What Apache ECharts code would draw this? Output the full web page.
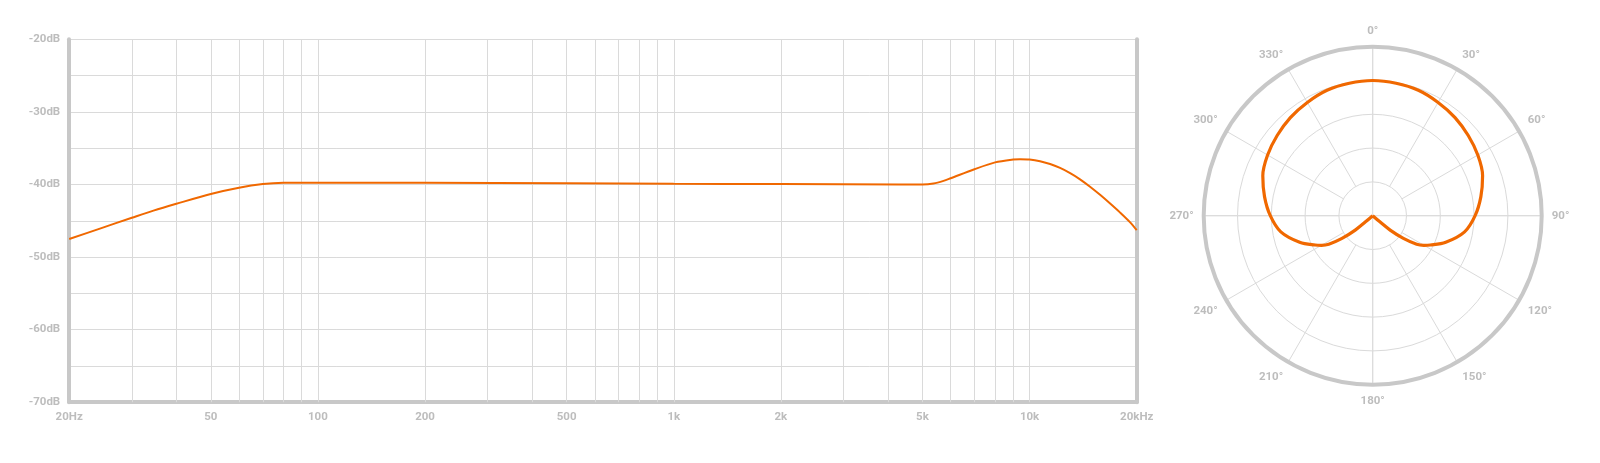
<!DOCTYPE html>
<html>
<head>
<meta charset="utf-8">
<style>
  html, body { margin: 0; padding: 0; background: #fff; }
  #chart { width: 1600px; height: 463px; }
</style>
<script src="https://cdn.jsdelivr.net/npm/echarts@6/dist/echarts.min.js"></script>
</head>
<body>
<div id="chart"></div>
<script>
// frequency response
const freqHz = [20, 24.4, 30, 34.5, 40, 50, 60, 70, 80, 100, 200, 500, 1000, 2000, 4330, 5000, 5370, 5730, 6000, 7000, 8000, 9000, 9400, 10000, 10700, 11420, 12180, 13000, 13860, 14790, 15780, 16840, 17970, 19170, 20000]
const responseDb = [-47.52, -46.08, -44.59, -43.6, -42.66, -41.31, -40.45, -39.95, -39.77, -39.75, -39.78, -39.84, -39.9, -39.95, -40.0, -40.0, -39.87, -39.51, -39.15, -37.9, -36.96, -36.56, -36.52, -36.56, -36.79, -37.19, -37.72, -38.44, -39.29, -40.31, -41.43, -42.63, -43.88, -45.22, -46.3]

const freqTicks = [20, 50, 100, 200, 500, 1000, 2000, 5000, 10000, 20000]
const freqTickLabels = ['20Hz', '50', '100', '200', '500', '1k', '2k', '5k', '10k', '20kHz']
const freqGrid = [30, 40, 50, 60, 70, 80, 90, 100, 200, 300, 400, 500, 600, 700, 800, 900, 1000, 2000, 3000, 4000, 5000, 6000, 7000, 8000, 9000, 10000]

// polar pattern (ring units, 0..5)
const polarAngles = [0, 10, 20, 30, 40, 50, 60, 70, 80, 90, 100, 110, 117, 120, 123, 126.5, 129.5, 130.5, 180, 229.5, 230.5, 233.5, 237, 240, 243, 250, 260, 270, 280, 290, 300, 310, 320, 330, 340, 350, 360]
const polarLevel = [4.0, 3.98, 3.95, 3.87, 3.79, 3.69, 3.59, 3.46, 3.25, 3.03, 2.76, 2.3, 1.91, 1.75, 1.55, 1.13, 0.67, 0.28, 0, 0.28, 0.67, 1.13, 1.55, 1.75, 1.91, 2.3, 2.76, 3.03, 3.25, 3.46, 3.59, 3.69, 3.79, 3.87, 3.95, 3.98, 4.0]

const ORANGE = '#f06800'
const AXIS = '#c8c8c8'
const GRID = '#dadada'
const LABEL = '#bdbdbd'
const FONT = "Roboto, 'Open Sans', sans-serif"

const labelStyle = { color: LABEL, fontFamily: FONT, fontWeight: 'bold', fontSize: 11.5 }

const allMarks = Array.from(new Set(freqGrid.concat(freqTicks))).sort((a, b) => a - b)
const markData = allMarks.map(f => {
  const ti = freqTicks.indexOf(f)
  return {
    xAxis: f,
    lineStyle: { color: freqGrid.includes(f) ? GRID : 'rgba(0,0,0,0)' },
    label: ti >= 0
      ? { show: true, formatter: freqTickLabels[ti] }
      : { show: false }
  }
})

// walk the pattern starting and ending at the rear null, so the cusp stays sharp
const polarPoints = polarAngles.map((a, i) => [polarLevel[i], a])
const iNull = polarAngles.indexOf(180)
const patternData = polarPoints.slice(iNull).concat(polarPoints.slice(1, iNull + 1))

const chart = echarts.init(document.getElementById('chart'), null, { renderer: 'canvas' })

chart.setOption({
  animation: false,
  backgroundColor: '#fff',
  grid: { left: 69.2, right: 463.3, top: 39.3, bottom: 60.8 },
  xAxis: {
    type: 'log',
    logBase: 10,
    min: 20,
    max: 20000,
    axisLine: { onZero: false, lineStyle: { color: AXIS, width: 4 } },
    axisTick: { show: false },
    axisLabel: { show: false },
    splitLine: { show: false }
  },
  yAxis: [{
    type: 'value',
    min: -70,
    max: -20,
    interval: 5,
    axisLine: { show: true, lineStyle: { color: AXIS, width: 4 } },
    axisTick: { show: false },
    axisLabel: Object.assign({
      margin: 9,
      formatter: v => (v % 10 === 0 ? v + 'dB' : '')
    }, labelStyle),
    splitLine: { lineStyle: { color: GRID, width: 1 } }
  }, {
    type: 'value',
    position: 'right',
    min: -70,
    max: -20,
    axisLine: { show: true, onZero: false, lineStyle: { color: AXIS, width: 4 } },
    axisTick: { show: false },
    axisLabel: { show: false },
    splitLine: { show: false }
  }],
  polar: [
    { center: [1372.7, 215.7], radius: [33.8, 169] },
    { center: [1372.7, 215.7], radius: [0, 169] }
  ],
  angleAxis: [{
    // spokes every 30 deg, starting at the first ring, plus the labels
    polarIndex: 0,
    type: 'value',
    min: 0,
    max: 360,
    interval: 30,
    startAngle: 90,
    clockwise: true,
    axisLine: { show: false },
    axisTick: { show: false },
    axisLabel: Object.assign({
      margin: 10,
      formatter: v => (v === 360 ? '' : v + '°')
    }, labelStyle),
    splitLine: { show: true, lineStyle: { color: GRID, width: 1 } }
  }, {
    // outer ring and the cross through the centre
    polarIndex: 1,
    type: 'value',
    min: 0,
    max: 360,
    interval: 90,
    startAngle: 90,
    clockwise: true,
    axisLine: { show: true, lineStyle: { color: AXIS, width: 4 } },
    axisTick: { show: false },
    axisLabel: { show: false },
    splitLine: { show: true, lineStyle: { color: GRID, width: 1 } }
  }],
  radiusAxis: [{
    polarIndex: 0,
    show: false,
    min: 0,
    max: 5
  }, {
    polarIndex: 1,
    type: 'value',
    min: 0,
    max: 5,
    interval: 1,
    axisLine: { show: false },
    axisTick: { show: false },
    axisLabel: { show: false },
    splitLine: { show: true, lineStyle: { color: GRID, width: 1 } }
  }],
  series: [{
    // carries the vertical grid lines and the frequency labels
    type: 'line',
    z: 1,
    silent: true,
    showSymbol: false,
    lineStyle: { opacity: 0 },
    data: freqHz.map((f, i) => [f, responseDb[i]]),
    markLine: {
      z: 1,
      silent: true,
      symbol: 'none',
      lineStyle: { color: GRID, width: 1, type: 'solid' },
      label: Object.assign({ position: 'start', distance: 9 }, labelStyle),
      data: markData
    }
  }, {
    name: 'response',
    type: 'line',
    z: 3,
    silent: true,
    showSymbol: false,
    smooth: 0.3,
    lineStyle: { color: ORANGE, width: 2 },
    data: freqHz.map((f, i) => [f, responseDb[i]])
  }, {
    name: 'pattern',
    type: 'line',
    coordinateSystem: 'polar',
    polarIndex: 1,
    z: 3,
    silent: true,
    showSymbol: false,
    smooth: 0.35,
    lineStyle: { color: ORANGE, width: 3.2, join: 'round' },
    data: patternData
  }]
})
</script>
</body>
</html>
